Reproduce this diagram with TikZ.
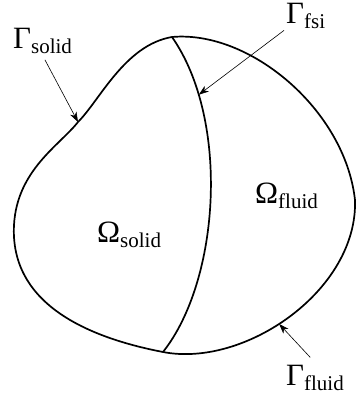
\documentclass[tikz,border=0pt]{standalone}
\usepackage{fontspec}
\setmainfont{Liberation Serif}
\usetikzlibrary{arrows.meta, positioning, calc}
\newcommand{\lowsub}[1]{\raisebox{-5pt}{\fontsize{21}{24}\selectfont #1}}

\begin{document}
\begin{tikzpicture}[x=1pt, y=-1pt,
  border/.style={line width=1.7pt, line join=round},
  lbl/.style={font=\fontsize{31}{36}\selectfont, inner sep=2pt, anchor=base west},
  pointer/.style={-{Stealth[length=10pt, width=7pt, inset=3pt]}, line width=0.6pt}
]
\useasboundingbox (0,0) rectangle (356,399);
\coordinate (top)    at (172,37);
\coordinate (right)  at (355,200);
\coordinate (bottom) at (163,352);
\coordinate (left)   at (14,225);
\coordinate (psolid) at (78,122);
\draw[border] (top) .. controls (250,30) and (345,110) .. (right)
  .. controls (358,290) and (245,368) .. coordinate[pos=0.55] (pfluid) (bottom)
  .. controls (80,336) and (10,300) .. (left)
  .. controls (17,170) and (60,145) .. (psolid)
  .. controls (100,100) and (125,45) .. (top) -- cycle;
\draw[border] (top) .. controls (230,120) and (220,280) .. coordinate[pos=0.2] (pfsi) (bottom);
\node[lbl] (lsolid) at (11,48)  {Γ\lowsub{solid}};
\node[lbl] (lfsi)   at (284,23) {Γ\lowsub{fsi}};
\node[lbl] (lfluid) at (284,385) {Γ\lowsub{fluid}};
\node[lbl] (osolid) at (95,242) {Ω\lowsub{solid}};
\node[lbl] (ofluid) at (253,203) {Ω\lowsub{fluid}};
\draw[pointer, shorten <=5pt] (lsolid.south) -- (psolid);
\draw[pointer] (lfsi.south west) -- (pfsi);
\draw[pointer, shorten <=7pt] (lfluid.north) -- (pfluid);
\end{tikzpicture}
\end{document}
